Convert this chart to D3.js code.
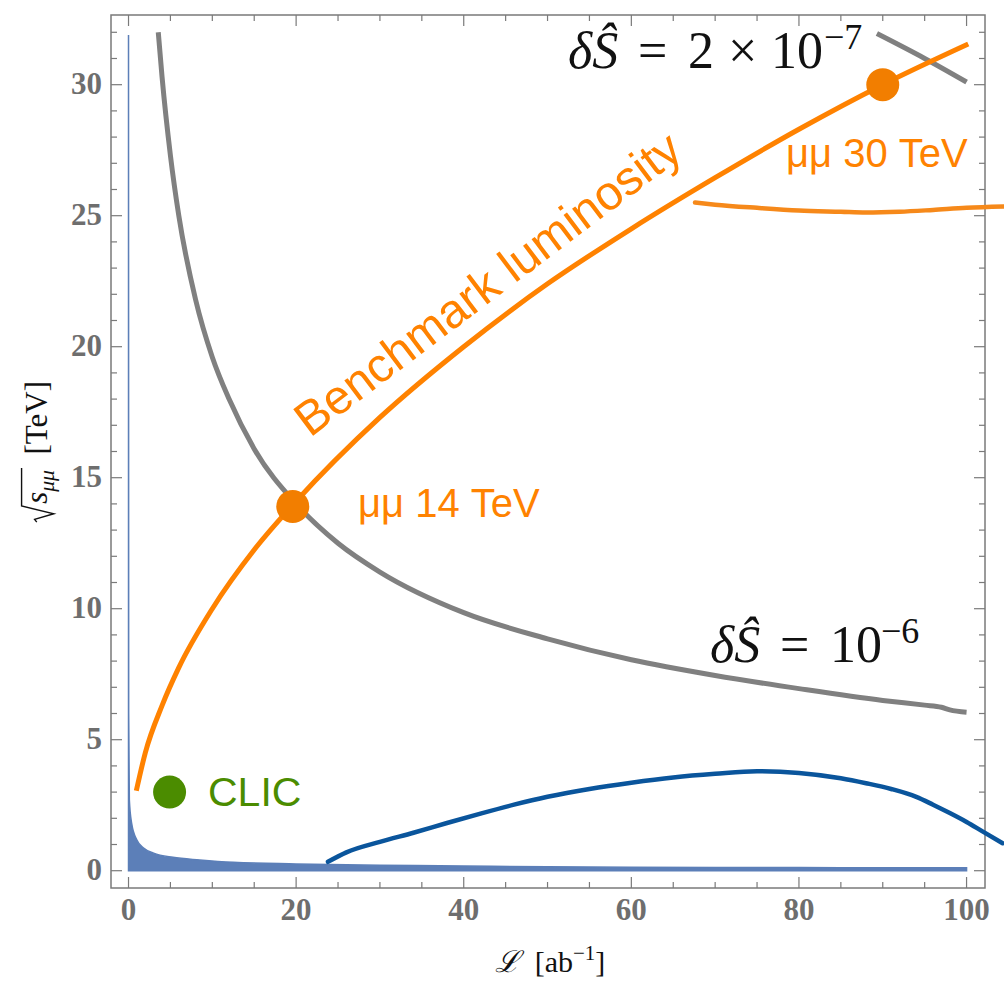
<!DOCTYPE html>
<html>
<head>
<meta charset="utf-8">
<script src="https://cdn.jsdelivr.net/npm/d3@7"></script>
<style>
  body { margin: 0; background: #fff; }
  svg { display: block; }
</style>
</head>
<body>
<script>
// luminosity L [ab^-1] vs sqrt(s) [TeV]

var bench_L = [0.93, 2, 4, 6, 10, 15, 20, 30, 40, 50, 60, 70, 80, 90, 100.2];
var bench_E = [3.05, 4.5, 6.3, 7.75, 10, 12.25, 14.1, 17.3, 20, 22.4, 24.5, 26.45, 28.3, 30, 31.55];

var s6_L = [3.55, 4, 5, 6, 8, 10, 12, 15, 20, 25, 30, 40, 50, 60, 70, 80, 90, 95, 97, 98, 100];
var s6_E = [32, 30.3, 27.3, 25, 21.8, 19.6, 18, 16.1, 14, 12.5, 11.4, 9.85, 8.85, 8.05, 7.45, 6.95, 6.5, 6.32, 6.24, 6.14, 6.05];

var s7_L = [89.3, 95, 100];
var s7_E = [31.95, 31.0, 30.1];

var mu30_L = [67.6, 70, 75, 80, 85, 88, 92, 96, 100, 104.4];
var mu30_E = [25.5, 25.42, 25.3, 25.2, 25.15, 25.12, 25.15, 25.22, 25.3, 25.35];

var blue_L = [23.8, 26, 30, 34, 38, 42, 46, 50, 55, 60, 65, 70, 75, 80, 85, 88, 91, 94, 96, 98, 100, 102, 104.3];
var blue_E = [0.34, 0.7, 1.1, 1.45, 1.82, 2.18, 2.52, 2.82, 3.12, 3.36, 3.56, 3.7, 3.8, 3.73, 3.53, 3.34, 3.12, 2.82, 2.52, 2.2, 1.86, 1.48, 1.05];

var fill_L = [0, 0.02, 0.1, 0.38, 1, 1.8, 3, 5.3, 8.5, 12.5, 20, 30, 40, 50, 60, 70, 80, 90, 100];
var fill_E = [31.9, 6, 2.7, 1.8, 1.17, 0.86, 0.67, 0.51, 0.41, 0.32, 0.26, 0.21, 0.18, 0.15, 0.13, 0.12, 0.12, 0.11, 0.11];

// benchmark points
var points = [
  {L: 19.6, E: 13.9, label: 'μμ 14 TeV', color: '#f27e00'},
  {L: 90,   E: 30,   label: 'μμ 30 TeV', color: '#f27e00'},
  {L: 4.9,  E: 3.0,  label: 'CLIC',      color: '#4b8c00'}
];

var x_ticks = [0, 20, 40, 60, 80, 100];
var y_ticks = [0, 5, 10, 15, 20, 25, 30];

var W = 1004, H = 983;

var svg = d3.select('body').append('svg')
  .attr('width', W)
  .attr('height', H);

var x = d3.scaleLinear()
  .domain([-2.09, 102.2])
  .range([111, 985]);

var y = d3.scaleLinear()
  .domain([-0.66, 32.66])
  .range([888, 15]);

var zip = (a, b) => a.map((d, i) => [d, b[i]]);

var line = d3.line()
  .x((d) => x(d[0]))
  .y((d) => y(d[1]))
  .curve(d3.curveMonotoneX);

// frame + ticks on all four sides (inward)
var frame_color = '#7a7a7a';

svg.append('rect')
  .attr('x', x.range()[0])
  .attr('y', y.range()[1])
  .attr('width', x.range()[1] - x.range()[0])
  .attr('height', y.range()[0] - y.range()[1])
  .attr('fill', 'none')
  .attr('stroke', frame_color)
  .attr('stroke-width', 1.5);

var ax = svg.append('g').attr('class', 'ticks')
  .attr('stroke', frame_color)
  .attr('stroke-width', 1.2);

d3.range(0, 101, 5).forEach((v) => {
  var len = (v % 20 === 0) ? 11 : 6;
  ax.append('line')
    .attr('x1', x(v)).attr('x2', x(v))
    .attr('y1', y.range()[0]).attr('y2', y.range()[0] - len);
  ax.append('line')
    .attr('x1', x(v)).attr('x2', x(v))
    .attr('y1', y.range()[1]).attr('y2', y.range()[1] + len);
});

d3.range(0, 33, 1).forEach((v) => {
  var len = (v % 5 === 0) ? 11 : 6;
  ax.append('line')
    .attr('y1', y(v)).attr('y2', y(v))
    .attr('x1', x.range()[0]).attr('x2', x.range()[0] + len);
  ax.append('line')
    .attr('y1', y(v)).attr('y2', y(v))
    .attr('x1', x.range()[1]).attr('x2', x.range()[1] - len);
});

var tick_font = {
  'font-family': '"Liberation Serif", "Times New Roman", serif',
  'font-weight': 'bold',
  'font-size': '31px',
  'fill': '#6e6e6e'
};

var xl = svg.append('g').selectAll('text')
  .data(x_ticks).enter()
  .append('text')
  .attr('x', (d) => x(d))
  .attr('y', 920)
  .attr('text-anchor', 'middle')
  .text((d) => d);

var yl = svg.append('g').selectAll('text')
  .data(y_ticks).enter()
  .append('text')
  .attr('x', 102)
  .attr('y', (d) => y(d) + 9)
  .attr('text-anchor', 'end')
  .text((d) => d);

Object.keys(tick_font).forEach((k) => { xl.attr(k, tick_font[k]); yl.attr(k, tick_font[k]); });

// blue filled region near the axis
var area = d3.area()
  .x((d) => x(d[0]))
  .y0(y(0))
  .y1((d) => y(d[1]))
  .curve(d3.curveMonotoneX);

svg.append('path')
  .attr('d', area(zip(fill_L, fill_E)))
  .attr('fill', '#5c7fb8')
  .attr('stroke', '#5c7fb8')
  .attr('stroke-width', 1.5);

// gray iso-dS curves
svg.append('path')
  .attr('d', line(zip(s6_L, s6_E)))
  .attr('fill', 'none')
  .attr('stroke', '#808080')
  .attr('stroke-width', 5);

svg.append('path')
  .attr('d', line(zip(s7_L, s7_E)))
  .attr('fill', 'none')
  .attr('stroke', '#808080')
  .attr('stroke-width', 5);

// noisy curves
svg.append('path')
  .attr('d', line(zip(blue_L, blue_E)))
  .attr('fill', 'none')
  .attr('stroke', '#0a559c')
  .attr('stroke-width', 4.5)
  .attr('stroke-linecap', 'round');

svg.append('path')
  .attr('d', line(zip(mu30_L, mu30_E)))
  .attr('fill', 'none')
  .attr('stroke', '#f6891a')
  .attr('stroke-width', 4.5)
  .attr('stroke-linecap', 'round');

// benchmark luminosity
svg.append('path')
  .attr('d', line(zip(bench_L, bench_E)))
  .attr('fill', 'none')
  .attr('stroke', '#ff8200')
  .attr('stroke-width', 5);

svg.append('g').selectAll('circle')
  .data(points).enter()
  .append('circle')
  .attr('cx', (d) => x(d.L))
  .attr('cy', (d) => y(d.E))
  .attr('r', 16.5)
  .attr('fill', (d) => d.color);

var sans = '"Liberation Sans", Arial, Helvetica, sans-serif';

svg.append('text')
  .attr('x', 358).attr('y', 517)
  .attr('font-family', sans).attr('font-size', '40px')
  .attr('fill', '#ff8200')
  .text(points[0].label);

svg.append('text')
  .attr('x', 786).attr('y', 167)
  .attr('font-family', sans).attr('font-size', '40px')
  .attr('fill', '#ff8200')
  .text(points[1].label);

svg.append('text')
  .attr('x', 208).attr('y', 806)
  .attr('font-family', sans).attr('font-size', '41px')
  .attr('fill', points[2].color)
  .text(points[2].label);

svg.append('text')
  .attr('transform', 'translate(310,438) rotate(-37)')
  .attr('font-family', sans).attr('font-size', '48px')
  .attr('fill', '#ff8200')
  .text('Benchmark luminosity');

// dS labels, pieces placed one by one like the typeset original
var serif = '"Liberation Serif", "Times New Roman", serif';

var ds_label = (py, fs, parts) => {
  var t = svg.append('text')
    .attr('y', py)
    .attr('font-family', serif)
    .attr('font-size', fs + 'px')
    .attr('fill', '#111');
  parts.forEach((p) => {
    var s = t.append('tspan').attr('x', p.x).attr('y', py + (p.up ? -p.up : 0)).text(p.t);
    if (p.it) s.attr('font-style', 'italic');
    if (p.fs) s.attr('font-size', p.fs + 'px');
  });
};

ds_label(68, 52, [
  {x: 568, t: 'δŜ', it: true},
  {x: 638, t: '='},
  {x: 688, t: '2'},
  {x: 728, t: '×'},
  {x: 771, t: '10'},
  {x: 824, t: '−7', fs: 36, up: 19}
]);

ds_label(662, 52, [
  {x: 710, t: 'δŜ', it: true},
  {x: 780, t: '='},
  {x: 830, t: '10'},
  {x: 881, t: '−6', fs: 36, up: 19}
]);

// axis labels
var xlab = svg.append('text')
  .attr('x', 550).attr('y', 972)
  .attr('text-anchor', 'middle')
  .attr('font-family', serif)
  .attr('font-size', '30px')
  .attr('fill', '#111');
xlab.append('tspan').attr('font-style', 'italic').text('ℒ');
xlab.append('tspan').text('\u2002[ab');
xlab.append('tspan').attr('font-size', '21px').attr('dy', -12).text('−1');
xlab.append('tspan').attr('dy', 12).text(']');

var yg = svg.append('g').attr('transform', 'translate(47,452) rotate(-90)');
var yfs = 31;
var ylab = yg.append('text')
  .attr('font-family', serif)
  .attr('font-size', yfs + 'px')
  .attr('fill', '#111');
var rad_w = yfs * 0.62;
ylab.append('tspan').attr('x', rad_w).attr('font-style', 'italic').text('s');
ylab.append('tspan').attr('font-style', 'italic').attr('font-size', (yfs * 0.7) + 'px').attr('dy', 7).text('μμ');
var sub_end = ylab.node().getComputedTextLength() + rad_w;
ylab.append('tspan').attr('dy', -7).text('\u2002[TeV]');
var total = ylab.node().getComputedTextLength() + rad_w;

yg.append('path')
  .attr('d', `M1,${-yfs * 0.33} L${yfs * 0.12},${-yfs * 0.4} L${yfs * 0.3},${yfs * 0.22} L${yfs * 0.55},${-yfs * 0.82} H${sub_end + 2}`)
  .attr('fill', 'none')
  .attr('stroke', '#111')
  .attr('stroke-width', 1.4);

yg.attr('transform', `translate(47,${452 + total / 2}) rotate(-90)`);
</script>
</body>
</html>
